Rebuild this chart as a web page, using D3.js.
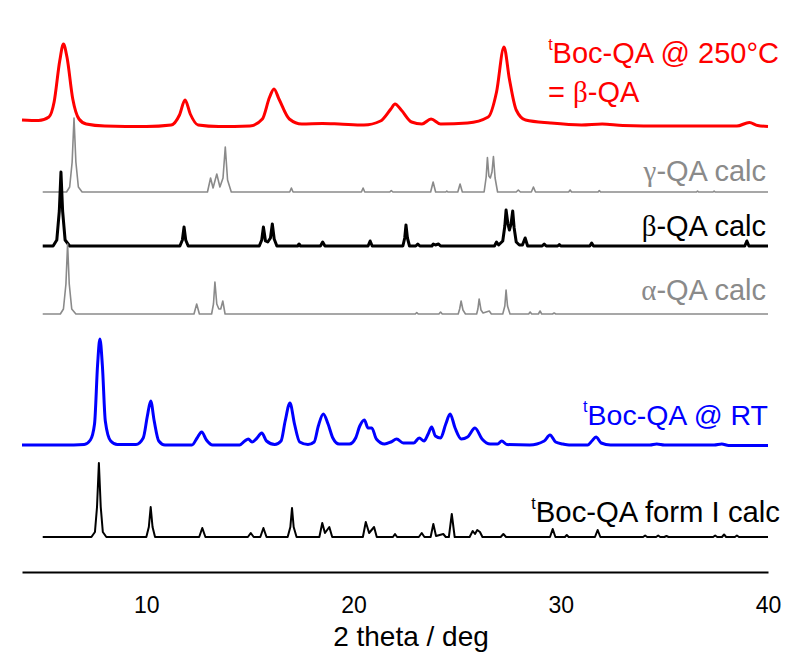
<!DOCTYPE html>
<html lang="en">
<head>
    <meta charset="UTF-8">
    <title>XRD patterns</title>
    <style>
        body { margin: 0; background: #fff; }
        #chart text { font-family: "Liberation Sans", Arial, sans-serif; }
        .greek { font-family: "Liberation Serif", "DejaVu Serif", serif; }
    </style>
</head>
<body>
    <div id="chart"></div>

    <script src="https://d3js.org/d3.v7.min.js"></script>
    <script>
        // [2 theta, intensity above own baseline]
        const redPattern = [
            [4.0, 7], [4.8, 6.5], [5.3, 10], [5.55, 25], [5.82, 66], [6.0, 83], [6.17, 70], [6.45, 28], [6.75, 8], [7.1, 3],
            [8.0, 1], [10.0, 0.5], [11.2, 2], [11.6, 12], [11.87, 27], [12.12, 13], [12.5, 2], [13.5, 0.5],
            [15.0, 1], [15.6, 8], [15.95, 30], [16.16, 38], [16.4, 28], [16.9, 8], [17.5, 3], [18.5, 3.5], [19.3, 3],
            [20.5, 2], [21.3, 6], [21.8, 18], [22.0, 23], [22.3, 17], [22.8, 5], [23.3, 3], [23.74, 8], [24.2, 3],
            [25.5, 4], [26.5, 10], [26.9, 35], [27.26, 80], [27.52, 48], [27.85, 17], [28.3, 7], [29.5, 4],
            [31.0, 2], [32.0, 3], [33.0, 1.5], [35.0, 1], [38.5, 1], [39.1, 4.5], [39.5, 1.5], [40.0, 0.5]
        ];

        const gammaCalc = [
            [5, 0], [6.15, 0], [6.3, 5], [6.42, 30], [6.51, 74], [6.6, 30], [6.72, 5], [6.9, 0],
            [12.95, 0], [13.1, 14], [13.22, 4], [13.4, 18], [13.55, 5], [13.7, 14], [13.81, 45], [13.92, 12], [14.1, 0],
            [16.92, 0], [17.0, 4], [17.08, 0], [20.38, 0], [20.46, 4], [20.54, 0], [21.75, 0], [21.82, 1.5], [21.9, 0],
            [23.72, 0], [23.84, 10], [23.96, 0], [24.45, 0], [24.5, 1], [24.55, 0], [25.03, 0], [25.14, 8], [25.25, 0],
            [26.3, 0], [26.4, 15], [26.46, 34.5], [26.53, 16], [26.6, 14], [26.68, 20], [26.75, 35.5], [26.83, 14], [26.95, 0],
            [27.85, 0], [27.95, 2], [28.05, 0], [28.58, 0], [28.68, 5], [28.78, 0], [30.38, 0], [30.45, 2], [30.52, 0],
            [31.8, 0], [31.86, 1.5], [31.92, 0], [36.55, 0], [36.6, 1], [36.65, 0], [37.35, 0], [37.4, 1], [37.45, 0],
            [40, 0]
        ];

        const betaCalc = [
            [5, 0], [5.5, 0], [5.68, 6], [5.8, 35], [5.88, 74], [5.96, 35], [6.08, 6], [6.3, 0],
            [11.62, 0], [11.74, 6], [11.82, 19], [11.9, 6], [12.02, 0],
            [15.45, 0], [15.57, 6], [15.65, 19], [15.75, 5], [15.86, 4], [15.99, 8], [16.08, 22], [16.17, 7], [16.3, 0],
            [17.3, 0], [17.37, 2], [17.44, 0], [18.4, 0], [18.51, 4], [18.62, 0], [20.7, 0], [20.8, 5], [20.9, 0],
            [22.38, 0], [22.47, 8], [22.53, 21], [22.6, 8], [22.7, 0], [23.0, 0], [23.1, 2], [23.2, 0],
            [23.78, 0], [23.85, 2], [23.95, 1], [24.1, 2], [24.2, 0],
            [26.8, 0], [26.9, 4], [27.0, 1], [27.2, 5], [27.3, 20], [27.36, 36], [27.45, 22], [27.52, 16], [27.6, 22],
            [27.68, 35], [27.75, 18], [27.85, 4], [28.0, 1], [28.15, 1], [28.28, 8], [28.4, 0],
            [29.1, 0], [29.2, 2], [29.3, 0], [29.85, 0], [29.93, 1.5], [30.0, 0], [31.4, 0], [31.49, 3], [31.58, 0],
            [38.88, 0], [38.98, 5], [39.08, 0], [40, 0]
        ];

        const alphaCalc = [
            [5, 0], [5.85, 0], [6.0, 5], [6.12, 30], [6.2, 70], [6.28, 30], [6.4, 5], [6.6, 0],
            [12.3, 0], [12.43, 10], [12.56, 0],
            [13.15, 0], [13.24, 10], [13.31, 32], [13.4, 10], [13.5, 5], [13.59, 5], [13.69, 13], [13.8, 0],
            [22.98, 0], [23.05, 1.5], [23.12, 0], [24.12, 0], [24.2, 2], [24.28, 0],
            [25.05, 0], [25.12, 5], [25.19, 13], [25.28, 4], [25.4, 0],
            [25.94, 0], [26.0, 5], [26.06, 15], [26.15, 4], [26.25, 1], [26.55, 3], [26.65, 0],
            [27.2, 0], [27.3, 8], [27.36, 24], [27.43, 8], [27.55, 0],
            [28.45, 0], [28.52, 2], [28.6, 0], [28.92, 0], [29.0, 3], [29.08, 0], [29.6, 0], [29.68, 1], [29.76, 0],
            [40, 0]
        ];

        const bluePattern = [
            [4, 1], [6, 1], [7.0, 1.5], [7.3, 6], [7.5, 22], [7.65, 82], [7.76, 107], [7.88, 80], [8.02, 25], [8.28, 5], [8.6, 1.5],
            [9.5, 1.5], [9.85, 8], [10.05, 30], [10.21, 45], [10.38, 25], [10.6, 5], [10.9, 1],
            [12.2, 1], [12.45, 8], [12.67, 14], [12.9, 6], [13.2, 1],
            [14.5, 1], [14.75, 5], [14.92, 7], [15.1, 4], [15.3, 7], [15.57, 13], [15.8, 5], [16.2, 1.5],
            [16.5, 5], [16.7, 25], [16.93, 43], [17.15, 22], [17.4, 4], [17.8, 1.5],
            [18.1, 4], [18.3, 20], [18.54, 32], [18.77, 22], [19.0, 8], [19.3, 2],
            [19.8, 2], [20.1, 8], [20.3, 20], [20.52, 26], [20.7, 18], [20.88, 18], [21.1, 7], [21.5, 2],
            [21.8, 4], [22.08, 7], [22.4, 3], [22.9, 3], [23.17, 8], [23.4, 5], [23.6, 12], [23.77, 19], [23.95, 10],
            [24.2, 8], [24.45, 22], [24.66, 32], [24.9, 18], [25.2, 7], [25.5, 9], [25.86, 18], [26.2, 7], [26.6, 2],
            [26.95, 2], [27.15, 5], [27.4, 1.5], [28.5, 1], [29.2, 5], [29.48, 11], [29.75, 4], [30.1, 2], [30.4, 1],
            [31.3, 1], [31.5, 5], [31.7, 9], [31.95, 3], [32.4, 1], [34.3, 1], [34.63, 2], [35.0, 1],
            [37.4, 1], [37.77, 2], [38.1, 0.5], [40, 0.5]
        ];

        const formICalc = [
            [5, 0], [7.35, 0], [7.52, 5], [7.62, 30], [7.71, 74], [7.8, 30], [7.9, 5], [8.07, 0],
            [10.0, 0], [10.12, 10], [10.21, 30], [10.3, 10], [10.42, 0], [12.55, 0], [12.7, 9], [12.85, 0],
            [14.9, 0], [15.04, 4], [15.18, 0], [15.5, 0], [15.65, 9], [15.8, 0],
            [16.82, 0], [16.95, 10], [17.03, 29], [17.11, 10], [17.25, 0],
            [18.35, 0], [18.49, 14], [18.62, 4], [18.83, 10], [18.97, 0],
            [20.45, 0], [20.59, 15], [20.75, 4], [20.99, 10], [21.12, 0], [21.9, 0], [22.0, 3], [22.1, 0],
            [23.15, 0], [23.29, 4], [23.42, 0], [23.72, 0], [23.85, 13], [23.98, 1], [24.33, 3], [24.45, 0],
            [24.6, 0], [24.74, 23], [24.88, 0], [25.6, 0], [25.75, 6], [25.86, 3], [25.97, 7], [26.1, 5], [26.22, 0],
            [27.1, 0], [27.23, 3], [27.36, 0], [29.48, 0], [29.61, 8], [29.74, 0], [30.2, 0], [30.29, 2], [30.38, 0],
            [31.65, 0], [31.78, 7], [31.91, 0], [33.97, 0], [34.07, 1.5], [34.17, 0], [34.6, 0], [34.7, 1.5], [34.8, 0],
            [35.0, 0], [35.1, 1], [35.2, 0], [37.35, 0], [37.45, 1.5], [37.55, 0], [37.78, 0], [37.88, 2.5], [37.98, 0],
            [38.4, 0], [38.5, 1.5], [38.6, 0], [40, 0]
        ];

        // vertical stacking offsets (same intensity units)
        const seriesNames = ["red", "gamma", "beta", "alpha", "blue", "formI"];
        const offsets = [445, 380, 326, 258, 126, 35];
        const xTicks = [10, 20, 30, 40];

        const width = 809, height = 652;
        const svg = d3.select("#chart")
            .append("svg")
            .attr("width", width)
            .attr("height", height);

        const x = d3.scaleLinear().domain([4, 40]).range([22, 768]);
        const y = d3.scaleLinear().domain([0, 550]).range([572, 22]);

        const series = [
            { data: redPattern, color: "#ff0000", lw: 3, curve: d3.curveMonotoneX },
            { data: gammaCalc, color: "#8a8a8a", lw: 1.6, curve: d3.curveLinear },
            { data: betaCalc, color: "#000000", lw: 3, curve: d3.curveLinear },
            { data: alphaCalc, color: "#8a8a8a", lw: 1.6, curve: d3.curveLinear },
            { data: bluePattern, color: "#0000ff", lw: 3, curve: d3.curveMonotoneX },
            { data: formICalc, color: "#000000", lw: 2, curve: d3.curveLinear }
        ];

        series.forEach((s, i) => {
            const line = d3.line()
                .x(d => x(d[0]))
                .y(d => y(d[1] + offsets[i]))
                .curve(s.curve);
            svg.append("path")
                .datum(s.data)
                .attr("class", "pattern " + seriesNames[i])
                .attr("fill", "none")
                .attr("stroke", s.color)
                .attr("stroke-width", s.lw)
                .attr("stroke-linejoin", "round")
                .attr("d", line);
        });

        // x axis: plain line with labels, no tick marks
        const xAxis = svg.append("g")
            .attr("transform", `translate(0,${y(0)})`)
            .call(d3.axisBottom(x).tickValues(xTicks).tickSize(0).tickPadding(25).tickSizeOuter(0));
        xAxis.select(".domain").attr("stroke", "#000").attr("stroke-width", 2.2);
        xAxis.selectAll("text")
            .attr("font-size", 23)
            .attr("fill", "#000")
            .style("font-family", "'Liberation Sans', Arial, sans-serif");

        svg.append("text")
            .attr("x", 411)
            .attr("y", 646)
            .attr("text-anchor", "middle")
            .attr("font-size", 28)
            .text("2 theta / deg");

        // labels
        function bocLabel(tx, ty, rest, color, size) {
            const t = svg.append("text")
                .attr("x", tx)
                .attr("y", ty)
                .attr("text-anchor", "end")
                .attr("font-size", size)
                .attr("fill", color);
            t.append("tspan").attr("font-size", 16).attr("dy", -13).text("t");
            t.append("tspan").attr("dy", 13).text(rest);
            return t;
        }
        function greekLabel(tx, ty, letter, rest, color) {
            const t = svg.append("text")
                .attr("x", tx)
                .attr("y", ty)
                .attr("text-anchor", "end")
                .attr("font-size", 29)
                .attr("fill", color);
            t.append("tspan").attr("class", "greek").text(letter);
            t.append("tspan").text(rest);
            return t;
        }

        bocLabel(779, 63, "Boc-QA @ 250°C", "#ff0000", 29);
        const eq = svg.append("text")
            .attr("x", 548)
            .attr("y", 102)
            .attr("font-size", 29)
            .attr("fill", "#ff0000");
        eq.append("tspan").text("= ");
        eq.append("tspan").attr("class", "greek").text("β");
        eq.append("tspan").text("-QA");

        greekLabel(766, 181, "γ", "-QA calc", "#8a8a8a");
        greekLabel(766, 236, "β", "-QA calc", "#000000");
        greekLabel(766, 300, "α", "-QA calc", "#8a8a8a");
        bocLabel(768, 425, "Boc-QA @ RT", "#0000ff", 28.5);
        bocLabel(780, 522, "Boc-QA form I calc", "#000000", 29.3);
    </script>
</body>
</html>
